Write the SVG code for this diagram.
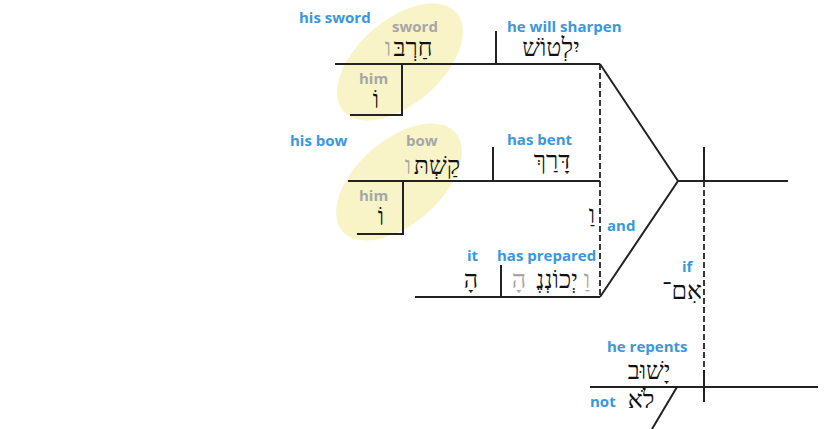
<svg xmlns="http://www.w3.org/2000/svg" width="825" height="429" viewBox="0 0 825 429">
<style>
.ln{stroke:#222;stroke-width:2;fill:none}
.dash{stroke:#222;stroke-width:1.8;fill:none;stroke-dasharray:6,3}
.lbl{font-family:"Open Sans","Liberation Sans",sans-serif;font-weight:bold;font-size:15px;fill:#3a97e0}
.gl{font-family:"Open Sans","Liberation Sans",sans-serif;font-weight:bold;font-size:15px;fill:#a6a6a6}
.he{font-family:"Liberation Serif","DejaVu Sans",serif;font-size:25px;fill:#111;text-anchor:middle}
.heg{font-family:"Liberation Serif","DejaVu Sans",serif;font-size:25px;fill:#a6a6a6;text-anchor:middle}
.hl{fill:#f8f4c8}
</style>
<rect width="825" height="429" fill="#fff"/>
<g id="highlights">
<ellipse class="hl" cx="400" cy="62" rx="75" ry="42" transform="rotate(-41 400 62)"/>
<ellipse class="hl" cx="399" cy="182" rx="75" ry="42" transform="rotate(-41 399 182)"/>
</g>
<g id="connectors">
<line class="ln" x1="335" y1="64" x2="600" y2="64"/>
<line class="ln" x1="496" y1="31" x2="496" y2="64"/>
<polyline class="ln" points="402,64 402,115 350,115"/>
<line class="ln" x1="348" y1="181" x2="600" y2="181"/>
<line class="ln" x1="493" y1="147" x2="493" y2="181"/>
<polyline class="ln" points="403,181 403,234 357,234"/>
<line class="ln" x1="415" y1="297" x2="600" y2="297"/>
<line class="ln" x1="501" y1="265" x2="501" y2="297"/>
<line class="dash" x1="600" y1="64" x2="600" y2="297"/>
<polyline class="ln" points="600,64 678,181 600,297"/>
<line class="ln" x1="678" y1="181" x2="788" y2="181"/>
<line class="ln" x1="704" y1="147" x2="704" y2="181"/>
<line class="dash" x1="704" y1="181" x2="704" y2="370"/>
<line class="ln" x1="704" y1="370" x2="704" y2="402"/>
<line class="ln" x1="590" y1="387" x2="818" y2="387"/>
<line class="ln" x1="677" y1="387" x2="652" y2="429"/>
</g>
<g id="sword">
<text class="lbl" x="299" y="23">his sword</text>
<text class="gl" x="392" y="32">sword</text>
<text class="he" x="413" y="56">חַרְבּ</text>
<text class="heg" x="388" y="56">ו</text>
</g>
<g id="sword-him">
<text class="gl" x="359" y="84">him</text>
<text class="he" x="376" y="108">וֹ</text>
</g>
<g id="sharpen">
<text class="lbl" x="507" y="32">he will sharpen</text>
<text class="he" x="551" y="56">יִלְטוֹשׁ</text>
</g>
<g id="bow">
<text class="lbl" x="290" y="146">his bow</text>
<text class="gl" x="406" y="146">bow</text>
<text class="he" x="437" y="174">קַשְׁתּ</text>
<text class="heg" x="408" y="174">ו</text>
</g>
<g id="bow-him">
<text class="gl" x="359" y="201">him</text>
<text class="he" x="381" y="225">וֹ</text>
</g>
<g id="bent">
<text class="lbl" x="507" y="145">has bent</text>
<text class="he" x="552" y="169">דָּרַךְ</text>
</g>
<g id="and">
<text class="he" x="592" y="223">וַ</text>
<text class="lbl" x="607" y="231">and</text>
</g>
<g id="it">
<text class="lbl" x="467" y="261">it</text>
<text class="he" x="471" y="288">הָ</text>
</g>
<g id="prepared">
<text class="lbl" x="497" y="261">has prepared</text>
<text class="heg" x="587" y="288">וַ</text>
<text class="he" x="557" y="288">יְכוֹנְנֶ</text>
<text class="heg" x="519" y="288">הָ</text>
</g>
<g id="if">
<text class="lbl" x="682" y="272">if</text>
<text class="he" x="682" y="299">אִם־</text>
</g>
<g id="repents">
<text class="lbl" x="607" y="352">he repents</text>
<text class="he" x="649" y="379">יָשׁוּב</text>
</g>
<g id="not">
<text class="lbl" x="590" y="407">not</text>
<text class="he" x="641" y="408">לֹא</text>
</g>
</svg>
